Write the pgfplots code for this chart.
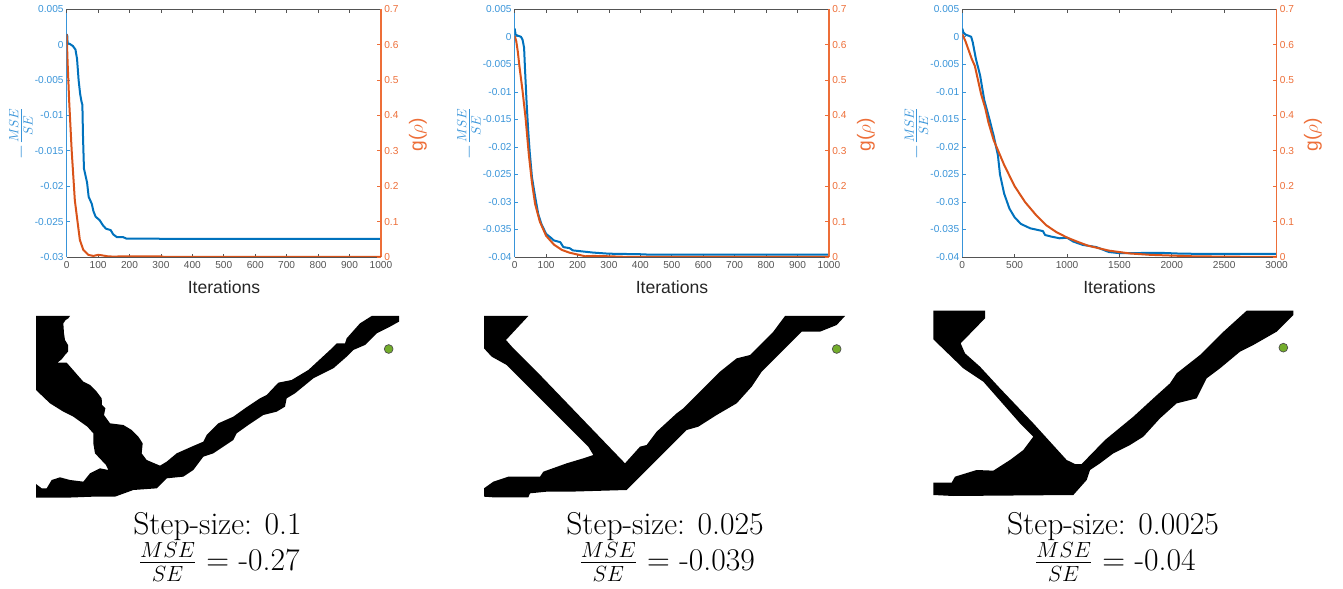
\documentclass[border=0pt]{standalone}
\usepackage{fontspec}
\usepackage{pgfplots}
\pgfplotsset{compat=1.18}
\newfontfamily\arialf{Liberation Sans}
\definecolor{mblue}{rgb}{0,0.447,0.741}
\definecolor{morange}{rgb}{0.85,0.325,0.098}
\definecolor{lblue}{rgb}{0.22,0.58,0.85}
\definecolor{lorange}{rgb}{0.93,0.43,0.22}
\definecolor{mgreen}{rgb}{0.45,0.68,0.17}
\definecolor{mgrey}{rgb}{0.33,0.33,0.33}
\pgfplotsset{
  leftpanel/.style={
    scale only axis, width=235.7pt, height=185.8pt, anchor=south west,
    axis x line*=bottom, axis y line*=left, tick align=inside,
    major tick length=2.6pt, xmin=0, enlargelimits=false,
    x axis line style={mgrey,line width=0.6pt,-},
    y axis line style={lblue,line width=0.9pt,-},
    xtick style={mgrey,line width=0.5pt},
    ytick style={lblue,line width=0.5pt},
    tick label style={font=\arialf\fontsize{7.6}{9}\selectfont},
    yticklabel style={text=lblue,xshift=1.2pt},
    xticklabel style={text=mgrey,yshift=0.5pt},
    scaled ticks=false,
  },
  rightpanel/.style={
    scale only axis, width=235.7pt, height=185.8pt, anchor=south west,
    axis x line*=top, axis y line*=right, tick align=inside,
    major tick length=2.6pt, xmin=0, ymin=0, ymax=0.7, enlargelimits=false,
    x axis line style={mgrey,line width=0.6pt,-},
    xtick style={mgrey,line width=0.5pt},
    xticklabels={},
    y axis line style={lorange,line width=0.9pt,-},
    ytick style={lorange,line width=0.5pt},
    ytick={0,0.1,0.2,0.3,0.4,0.5,0.6,0.7},
    yticklabels={0,0.1,0.2,0.3,0.4,0.5,0.6,0.7},
    tick label style={font=\arialf\fontsize{7.6}{9}\selectfont},
    yticklabel style={text=lorange,xshift=-1pt},
  },
  topo/.style={
    hide axis, scale only axis, width=337.5pt, height=216.75pt, anchor=south west,
    xmin=0, xmax=1350, ymin=0, ymax=867, y dir=reverse, enlargelimits=false, clip=false,
  },
  blueline/.style={mblue,line width=1.5pt,line join=round},
  orangeline/.style={morange,line width=1.5pt,line join=round},
  topofill/.style={fill=black,draw=none},
  goal/.style={only marks,mark=*,mark size=3.3pt,mark options={fill=mgreen,draw=black!70,line width=0.5pt}},
}
\begin{document}
\begin{tikzpicture}
\useasboundingbox (0,0) rectangle (1007.25pt,441.75pt);

% ---------- Panel 1 curves
\begin{axis}[leftpanel, at={(50pt,249pt)}, xmax=1000, ymin=-0.03, ymax=0.005,
  xtick={0,100,...,1000}, xticklabels={0,100,200,300,400,500,600,700,800,900,1000},
  ytick={-0.03,-0.025,-0.02,-0.015,-0.01,-0.005,0,0.005},
  yticklabels={-0.03,-0.025,-0.02,-0.015,-0.01,-0.005,0,0.005}]
\addplot[blueline] coordinates {(0,0.0015)(2,0.0012)(3,0.0002)(10,0.0001)(20,-0.0002)(28,-0.0007)(33,-0.002)(38,-0.005)(43,-0.007)(47,-0.008)(50,-0.0085)(52,-0.013)(55,-0.0175)(60,-0.0185)(65,-0.0195)(70,-0.0215)(80,-0.0225)(85,-0.0235)(92,-0.0243)(105,-0.0248)(115,-0.0255)(125,-0.026)(140,-0.0262)(148,-0.0268)(160,-0.0272)(180,-0.0272)(190,-0.0274)(290,-0.0274)(300,-0.02745)(1000,-0.02745)};
\end{axis}
\begin{axis}[rightpanel, at={(50pt,249pt)}, xmax=1000, xtick={0,100,...,1000}]
\addplot[orangeline] coordinates {(0,0.63)(3,0.55)(8,0.44)(16,0.30)(26,0.16)(42,0.048)(53,0.02)(69,0.006)(85,0.003)(100,0.006)(110,0.005)(130,0.002)(150,0.001)(180,0.002)(300,0.002)(310,0)(1000,0)};
\end{axis}

% ---------- Panel 2 curves
\begin{axis}[leftpanel, at={(386pt,249pt)}, xmax=1000, ymin=-0.04, ymax=0.005,
  xtick={0,100,...,1000}, xticklabels={0,100,200,300,400,500,600,700,800,900,1000},
  ytick={-0.04,-0.035,-0.03,-0.025,-0.02,-0.015,-0.01,-0.005,0,0.005},
  yticklabels={-0.04,-0.035,-0.03,-0.025,-0.02,-0.015,-0.01,-0.005,0,0.005}]
\addplot[blueline] coordinates {(0,0.0015)(3,0.0004)(10,0.0002)(20,0)(25,-0.0005)(30,-0.002)(33,-0.006)(38,-0.012)(43,-0.017)(48,-0.021)(55,-0.0255)(65,-0.029)(75,-0.0322)(85,-0.034)(100,-0.0358)(115,-0.0365)(125,-0.037)(145,-0.0373)(155,-0.0382)(175,-0.0384)(185,-0.0388)(250,-0.0392)(300,-0.0394)(400,-0.0395)(420,-0.03955)(1000,-0.03955)};
\end{axis}
\begin{axis}[rightpanel, at={(386pt,249pt)}, xmax=1000, xtick={0,100,...,1000}]
\addplot[orangeline] coordinates {(0,0.625)(5,0.61)(10,0.58)(15,0.54)(25,0.47)(35,0.39)(45,0.29)(55,0.21)(65,0.15)(80,0.10)(100,0.06)(125,0.035)(150,0.02)(175,0.012)(200,0.007)(225,0.002)(250,0.003)(300,0.002)(350,0.0005)(1000,0)};
\end{axis}

% ---------- Panel 3 curves
\begin{axis}[leftpanel, at={(721.7pt,249pt)}, xmax=3000, ymin=-0.04, ymax=0.005,
  xtick={0,500,...,3000}, xticklabels={0,500,1000,1500,2000,2500,3000},
  ytick={-0.04,-0.035,-0.03,-0.025,-0.02,-0.015,-0.01,-0.005,0,0.005},
  yticklabels={-0.04,-0.035,-0.03,-0.025,-0.02,-0.015,-0.01,-0.005,0,0.005}]
\addplot[blueline] coordinates {(0,0.0015)(10,0.0008)(30,0.0004)(60,0.0002)(85,0)(100,-0.001)(130,-0.004)(170,-0.007)(210,-0.0115)(260,-0.015)(300,-0.018)(340,-0.0215)(360,-0.025)(400,-0.0285)(450,-0.0312)(500,-0.0328)(560,-0.034)(650,-0.0348)(700,-0.035)(770,-0.0353)(790,-0.036)(850,-0.0363)(930,-0.0366)(1000,-0.0365)(1060,-0.0372)(1150,-0.0378)(1280,-0.0382)(1400,-0.0391)(1500,-0.0393)(1900,-0.03925)(2100,-0.0394)(2500,-0.03945)(3000,-0.03945)};
\end{axis}
\begin{axis}[rightpanel, at={(721.7pt,249pt)}, xmax=3000, xtick={0,500,...,3000}]
\addplot[orangeline] coordinates {(0,0.63)(30,0.61)(60,0.585)(90,0.56)(120,0.54)(150,0.50)(180,0.46)(220,0.42)(250,0.38)(300,0.33)(350,0.295)(400,0.26)(500,0.2)(600,0.155)(700,0.12)(800,0.09)(900,0.07)(1000,0.055)(1100,0.043)(1200,0.032)(1400,0.018)(1600,0.01)(1800,0.006)(2000,0.004)(2200,0.002)(2500,0.001)(3000,0)};
\end{axis}

% ---------- Topologies
\begin{axis}[topo, at={(0pt,0pt)}]
\addplot[topofill] coordinates {(108,48)(210,48)(205,55)(197,60)(190,70)(192,100)(195,120)(204,135)(204,155)(195,165)(185,178)(172,188)(200,188)(215,205)(235,228)(250,245)(270,255)(290,275)(305,295)(306,315)(316,325)(312,345)(330,370)(370,375)(395,390)(415,410)(428,430)(425,460)(440,480)(480,497)(500,485)(530,460)(575,440)(610,425)(620,405)(655,370)(700,350)(735,325)(780,295)(800,285)(835,248)(875,240)(925,210)(990,150)(1010,130)(1035,130)(1040,115)(1080,70)(1115,48)(1197,48)(1197,65)(1170,80)(1130,100)(1095,135)(1060,150)(1040,170)(1000,205)(980,215)(940,235)(885,280)(860,295)(855,320)(830,335)(790,345)(745,375)(710,400)(700,420)(640,460)(610,470)(580,510)(550,530)(500,535)(470,565)(400,570)(345,590)(280,590)(200,593)(108,593)(108,552)(125,565)(140,565)(155,540)(180,532)(210,540)(250,545)(270,520)(300,505)(325,510)(318,495)(285,460)(280,430)(280,400)(262,380)(220,350)(190,335)(150,310)(108,270)} --cycle;
\addplot[goal] coordinates {(1166,147)};
\end{axis}
\begin{axis}[topo, at={(337.5pt,0pt)}]
\addplot[topofill] coordinates {(102,48)(235,48)(168,120)(190,145)(275,230)(525,490)(570,440)(590,435)(620,395)(680,340)(700,325)(760,265)(810,215)(860,175)(900,165)(970,95)(1005,48)(1185,48)(1160,75)(1110,95)(1055,95)(1000,150)(960,190)(935,215)(905,260)(860,310)(800,345)(745,380)(710,390)(665,435)(590,510)(530,570)(360,575)(290,575)(240,580)(235,592)(130,592)(102,590)(102,565)(130,545)(175,530)(215,530)(270,530)(280,515)(350,490)(400,475)(430,465)(415,440)(280,305)(170,195)(125,170)(102,145)} --cycle;
\addplot[goal] coordinates {(1160,147)};
\end{axis}
\begin{axis}[topo, at={(675pt,0pt)}]
\addplot[topofill] coordinates {(100,32)(255,32)(255,55)(182,130)(195,160)(240,200)(300,265)(400,370)(500,480)(525,492)(545,492)(615,420)(700,350)(760,295)(810,250)(830,220)(900,165)(965,100)(1040,32)(1180,32)(1180,45)(1130,95)(1060,135)(1020,155)(960,205)(920,235)(890,295)(830,310)(780,355)(730,410)(690,435)(640,460)(600,490)(570,510)(560,540)(520,585)(160,588)(100,585)(100,548)(155,548)(165,530)(230,510)(280,512)(330,480)(370,450)(400,410)(360,370)(250,245)(190,205)(100,118)} --cycle;
\addplot[goal] coordinates {(1150,143)};
\end{axis}

% ---------- Text, in image pixels
\begin{scope}[x=0.75pt,y=-0.75pt,yshift=441.75pt]
\def\itfont{\arialf\fontsize{13.2}{15}\selectfont}
\def\gfont{\arialf\fontsize{14.4}{16}\selectfont}
\node[text=black!85,font=\itfont] at (224,287) {Iterations};
\node[text=black!85,font=\itfont] at (672,287) {Iterations};
\node[text=black!85,font=\itfont] at (1119.5,287) {Iterations};
\node[text=lblue,rotate=90,font=\Large] at (21,133) {$-\frac{MSE}{SE}$};
\node[text=lblue,rotate=90,font=\Large] at (469,133) {$-\frac{MSE}{SE}$};
\node[text=lblue,rotate=90,font=\Large] at (916.5,133) {$-\frac{MSE}{SE}$};
\node[text=lorange,rotate=90,font=\gfont] at (418,135) {g({\Large$\rho$})};
\node[text=lorange,rotate=90,font=\gfont] at (866,135) {g({\Large$\rho$})};
\node[text=lorange,rotate=90,font=\gfont] at (1313,135) {g({\Large$\rho$})};
\node[font=\huge,scale=1.143] at (217.5,527) {Step-size: 0.1};
\node[font=\huge,scale=1.143] at (665,527) {Step-size: 0.025};
\node[font=\huge,scale=1.143] at (1113,527) {Step-size: 0.0025};
\node[font=\huge,scale=1.143] at (219,562) {$\frac{MSE}{SE}$ $=$ -0.27};
\node[font=\huge,scale=1.143] at (667,562) {$\frac{MSE}{SE}$ $=$ -0.039};
\node[font=\huge,scale=1.143] at (1115,562) {$\frac{MSE}{SE}$ $=$ -0.04};
\end{scope}
\end{tikzpicture}
\end{document}
